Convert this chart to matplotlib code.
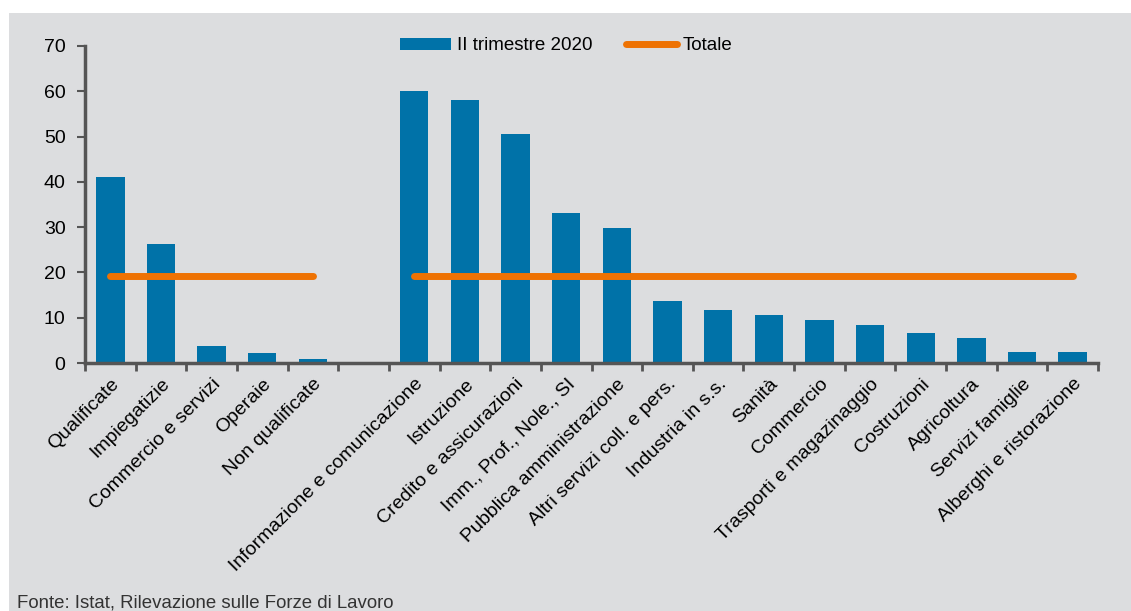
import matplotlib
matplotlib.use('Agg')
import matplotlib.pyplot as plt
import numpy as np

plt.rcParams['font.family'] = ['Liberation Sans', 'DejaVu Sans']

# categorie (gruppo professioni, poi settori)
professioni = ['Qualificate', 'Impiegatizie', 'Commercio e servizi', 'Operaie', 'Non qualificate']
val_prof = [41.0, 26.2, 3.8, 2.1, 0.9]

settori = ['Informazione e comunicazione', 'Istruzione', 'Credito e assicurazioni',
           'Imm., Prof., Nole., SI', 'Pubblica amministrazione', 'Altri servizi coll. e pers.',
           'Industria in s.s.', 'Sanità', 'Commercio', 'Trasporti e magazinaggio',
           'Costruzioni', 'Agricoltura', 'Servizi famiglie', 'Alberghi e ristorazione']
val_sett = [60.0, 58.0, 50.6, 33.1, 29.9, 13.6, 11.6, 10.7, 9.4, 8.3, 6.6, 5.6, 2.5, 2.4]

totale = 19.2

blu = '#0072a8'
arancio = '#ee7203'
grigio = '#dcdddf'
assi = '#555555'

fig = plt.figure(figsize=(11.31, 6.11), dpi=100)
fig.patch.set_facecolor('white')

# pannello grigio di sfondo
bg = fig.add_axes([9 / 1131, 0, 1 - 9 / 1131, 1 - 13 / 611], zorder=-5)
bg.set_facecolor(grigio)
bg.set_xticks([])
bg.set_yticks([])
for s in bg.spines.values():
    s.set_visible(False)

ax = fig.add_axes([85 / 1131, 1 - 363 / 611, (1098 - 85) / 1131, (363 - 46) / 611])
ax.set_facecolor('none')

x_prof = np.arange(len(professioni))
x_sett = np.arange(len(settori)) + len(professioni) + 1

b = ax.bar(x_prof, val_prof, width=0.56, color=blu, zorder=2)
ax.bar(x_sett, val_sett, width=0.56, color=blu, zorder=2)

l, = ax.plot([x_prof[0], x_prof[-1]], [totale, totale], color=arancio, lw=5,
             solid_capstyle='round', zorder=3)
ax.plot([x_sett[0], x_sett[-1]], [totale, totale], color=arancio, lw=5,
        solid_capstyle='round', zorder=3)

n = len(professioni) + 1 + len(settori)
ax.set_xlim(-0.5, n - 0.5)
ax.set_ylim(0, 70)

ax.set_xticks(np.arange(n + 1) - 0.5)
ax.set_xticklabels([])
ax.set_xticks(np.concatenate([x_prof, x_sett]), minor=True)
ax.set_xticklabels(professioni + settori, minor=True, rotation=45, ha='right',
                   rotation_mode='anchor', fontsize=14)
ax.tick_params(axis='x', which='minor', length=0, pad=9)
ax.tick_params(axis='x', which='major', length=6, width=2, color=assi, direction='out')

ax.set_yticks(np.arange(0, 71, 10))
ax.tick_params(axis='y', length=6, width=1.5, color=assi, labelsize=14, pad=8)

for s in ['top', 'right']:
    ax.spines[s].set_visible(False)
for s in ['left', 'bottom']:
    ax.spines[s].set_color(assi)
    ax.spines[s].set_linewidth(2.5)

ax.legend([b, l], ['II trimestre 2020', 'Totale'], loc='center',
          bbox_to_anchor=(0.475, 1.0), ncol=2, frameon=False, fontsize=13.5,
          handlelength=2.7, handleheight=0.6, handletextpad=0.3, columnspacing=1.8)

fig.text(17 / 1131, 3 / 611, 'Fonte: Istat, Rilevazione sulle Forze di Lavoro',
         fontsize=13.4, color='#333333')

fig.savefig('out.png', dpi=100)
